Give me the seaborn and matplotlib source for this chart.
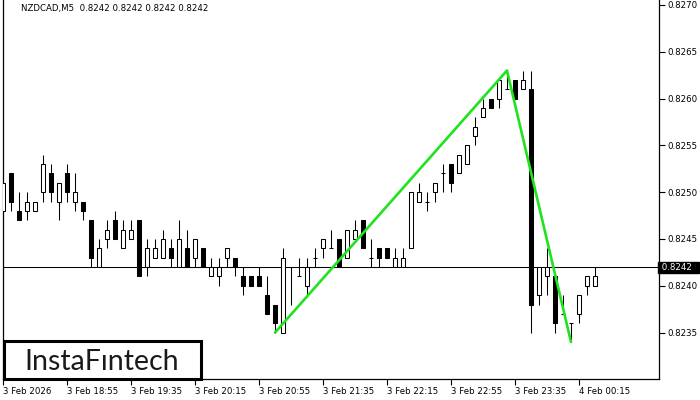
import numpy as np
import matplotlib
matplotlib.use("Agg")
import matplotlib.pyplot as plt
import matplotlib.transforms as mtransforms
from matplotlib.patches import Rectangle
import seaborn as sns

# NZDCAD M5 candles, 3 Feb 18:15 .. 3 Feb 24:25
opens = [0.8248, 0.8252, 0.8248, 0.8248, 0.8248, 0.8250, 0.8252, 0.8249, 0.8252, 0.8249,
         0.8249, 0.8247, 0.8242, 0.8245, 0.8247, 0.8244, 0.8245, 0.8247, 0.8242, 0.8243,
         0.8243, 0.8244, 0.8242, 0.8244, 0.8243, 0.8244, 0.8241, 0.8241, 0.8243, 0.8243,
         0.8241, 0.8241, 0.8241, 0.8239, 0.8238, 0.8235, 0.8242, 0.8241, 0.8240, 0.8243,
         0.8244, 0.8244, 0.8245, 0.8243, 0.8245, 0.8247, 0.8243, 0.8244, 0.8244, 0.8242,
         0.8242, 0.8244, 0.8249, 0.8249, 0.8250, 0.8252, 0.8253, 0.8252, 0.8253, 0.8256,
         0.8258, 0.8260, 0.8260, 0.8261, 0.8262, 0.8261, 0.8261, 0.8239, 0.8241, 0.8241,
         0.8237, 0.8236, 0.8237, 0.8240, 0.8240]
highs = [0.8251, 0.8252, 0.8250, 0.8250, 0.8249, 0.8254, 0.8253, 0.8251, 0.8253, 0.8252,
         0.8249, 0.8247, 0.8245, 0.8247, 0.8248, 0.8247, 0.8247, 0.8247, 0.8245, 0.8245,
         0.8246, 0.8245, 0.8247, 0.8246, 0.8245, 0.8244, 0.8243, 0.8243, 0.8244, 0.8243,
         0.8242, 0.8241, 0.8242, 0.8241, 0.8238, 0.8244, 0.8242, 0.8243, 0.8243, 0.8244,
         0.8245, 0.8246, 0.8245, 0.8246, 0.8247, 0.8247, 0.8245, 0.8244, 0.8244, 0.8244,
         0.8244, 0.8250, 0.8251, 0.8250, 0.8251, 0.8253, 0.8253, 0.8254, 0.8255, 0.8258,
         0.8260, 0.8260, 0.8262, 0.8263, 0.8262, 0.8263, 0.8263, 0.8242, 0.8244, 0.8241,
         0.8239, 0.8236, 0.8239, 0.8241, 0.8242]
lows = [0.8248, 0.8248, 0.8247, 0.8247, 0.8248, 0.8249, 0.8249, 0.8247, 0.8249, 0.8248,
        0.8247, 0.8242, 0.8242, 0.8244, 0.8245, 0.8244, 0.8245, 0.8241, 0.8241, 0.8243,
        0.8243, 0.8242, 0.8242, 0.8242, 0.8242, 0.8242, 0.8241, 0.8240, 0.8242, 0.8241,
        0.8239, 0.8240, 0.8240, 0.8237, 0.8235, 0.8235, 0.8238, 0.8241, 0.8239, 0.8242,
        0.8243, 0.8244, 0.8242, 0.8243, 0.8245, 0.8244, 0.8242, 0.8242, 0.8243, 0.8242,
        0.8242, 0.8244, 0.8249, 0.8248, 0.8249, 0.8250, 0.8250, 0.8252, 0.8253, 0.8255,
        0.8258, 0.8259, 0.8259, 0.8261, 0.8260, 0.8261, 0.8235, 0.8238, 0.8239, 0.8235,
        0.8237, 0.8234, 0.8236, 0.8239, 0.8240]
closes = [0.8251, 0.8249, 0.8247, 0.8249, 0.8249, 0.8253, 0.8250, 0.8251, 0.8250, 0.8250,
          0.8248, 0.8243, 0.8244, 0.8246, 0.8245, 0.8246, 0.8246, 0.8241, 0.8244, 0.8244,
          0.8245, 0.8243, 0.8245, 0.8242, 0.8245, 0.8242, 0.8242, 0.8242, 0.8244, 0.8242,
          0.8240, 0.8240, 0.8240, 0.8237, 0.8236, 0.8243, 0.8242, 0.8241, 0.8242, 0.8243,
          0.8245, 0.8244, 0.8242, 0.8246, 0.8246, 0.8244, 0.8243, 0.8243, 0.8243, 0.8243,
          0.8243, 0.8250, 0.8250, 0.8249, 0.8251, 0.8252, 0.8251, 0.8254, 0.8255, 0.8257,
          0.8259, 0.8259, 0.8262, 0.8261, 0.8260, 0.8262, 0.8238, 0.8242, 0.8242, 0.8236,
          0.8237, 0.8236, 0.8239, 0.8241, 0.8241]

time_labels = ["3 Feb 2026", "3 Feb 18:55", "3 Feb 19:35", "3 Feb 20:15", "3 Feb 20:55",
               "3 Feb 21:35", "3 Feb 22:15", "3 Feb 22:55", "3 Feb 23:35", "4 Feb 00:15"]
price_ticks = [0.8235, 0.8240, 0.8245, 0.8250, 0.8255, 0.8260, 0.8265, 0.8270]

# pattern (green) turning points: candle index, price
pattern_idx = [34, 63, 71]
pattern_price = [0.8235, 0.8263, 0.8234]

last_price = 0.8242
title = "NZDCAD,M5  0.8242 0.8242 0.8242 0.8242"

sns.set_style("white")
plt.rcParams['font.family'] = ['DejaVu Sans']

o = np.array(opens)
h = np.array(highs)
l = np.array(lows)
c = np.array(closes)
idx = np.arange(len(o))

W, H = 700, 400
fig = plt.figure(figsize=(7, 4), dpi=100)
ax = fig.add_axes([2.7 / W, (H - 379.4) / H, (659.5 - 2.7) / W, 379.4 / H])

lw = 0.75
# wicks
ax.vlines(idx, l, h, color='black', lw=lw, zorder=2)
# bodies
bull = c > o
bear = c < o
doji = c == o
ax.bar(idx[bull], (c - o)[bull], bottom=o[bull], width=0.6,
       facecolor='white', edgecolor='black', linewidth=lw, zorder=3)
ax.bar(idx[bear], (o - c)[bear], bottom=c[bear], width=0.6,
       facecolor='black', edgecolor='black', linewidth=lw, zorder=3)
ax.hlines(o[doji], idx[doji] - 0.3, idx[doji] + 0.3, color='black', lw=lw, zorder=3)

ax.axhline(last_price, color='black', lw=lw, zorder=1)

sns.lineplot(x=pattern_idx, y=pattern_price, ax=ax, color='#1fe31f', lw=1.9,
             zorder=4, sort=False)

ax.set_xlim((2.7 - 3) / 8, (659.5 - 3) / 8)
ax.set_ylim(0.8230, 0.8270 + 5 / 93600)

ax.set_xticks(np.arange(len(time_labels)) * 8)
ax.set_xticklabels(time_labels, ha='left')
ax.yaxis.tick_right()
ax.set_yticks(price_ticks)
ax.set_yticklabels(["%.4f" % p for p in price_ticks])
ax.tick_params(axis='both', direction='out', length=4, width=0.8, color='black',
               labelsize=6.2, labelcolor='black')
ax.tick_params(axis='x', pad=1.5, bottom=True)
ax.tick_params(axis='y', pad=1.5, right=True, left=False)

for side in ['left', 'right', 'bottom']:
    ax.spines[side].set_visible(True)
    ax.spines[side].set_color('black')
    ax.spines[side].set_linewidth(0.9)
ax.spines['top'].set_visible(False)
ax.grid(False)

# bid label on the price axis
trans = mtransforms.blended_transform_factory(ax.transAxes, ax.transData)
ax.text(1.0, last_price, " 0.8242  ", transform=trans, ha='left', va='center',
        color='white', fontsize=6.2, clip_on=False,
        bbox=dict(boxstyle='square,pad=0.12', fc='black', ec='black'))

ax.text(18 / (659.5 - 2.7), 1 - 9 / 379.4, title, transform=ax.transAxes,
        ha='left', va='center', fontsize=6.2, color='black')

# logo box
fig.add_artist(Rectangle((4 / W, (H - 378.5) / H), 197 / W, 37.5 / H,
                         transform=fig.transFigure, facecolor='white',
                         edgecolor='black', linewidth=2.2, zorder=10))
fig.text(102 / W, 1 - 369.5 / H, "InstaFıntech", ha='center', va='baseline',
         fontsize=20.5, family=['Lato', 'DejaVu Sans'], color='#1a1a1a',
         zorder=11)

fig.savefig("out.png", dpi=100)
